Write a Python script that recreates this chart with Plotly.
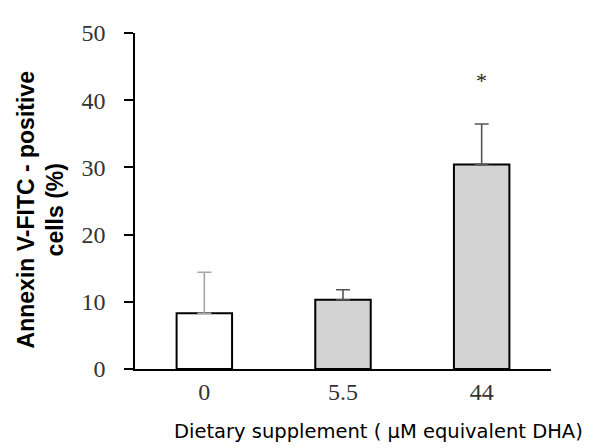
import plotly.graph_objects as go

# data
doses = ["0", "5.5", "44"]
annexin_pct = [8.3, 10.3, 30.45]
sem_up = [6.1, 1.5, 6.0]
bar_fill = ["white", "#d3d3d3", "#d3d3d3"]
err_color = ["#a6a6a6", "#555555", "#555555"]
star_dose = "44"
star_y = 43.0

fig = go.Figure()

for i, d in enumerate(doses):
    fig.add_trace(go.Bar(
        x=[d],
        y=[annexin_pct[i]],
        width=0.4,
        marker=dict(color=bar_fill[i], line=dict(color="black", width=2)),
        error_y=dict(
            type="data",
            symmetric=False,
            array=[sem_up[i]],
            arrayminus=[0],
            color=err_color[i],
            thickness=1.6,
            width=7,
        ),
        showlegend=False,
    ))

# significance marker (category axis -> use index position)
fig.add_annotation(
    x=doses.index(star_dose), y=star_y,
    text="*", showarrow=False,
    font=dict(family="Liberation Serif", size=22, color="#222222"),
)

# axis titles placed by hand, the original has them off-centre
fig.add_annotation(
    xref="paper", yref="paper",
    x=-0.226, y=0.475,
    xanchor="center", yanchor="middle",
    textangle=-90,
    text="<b>Annexin V-FITC - positive<br>cells (%)</b>",
    showarrow=False,
    font=dict(family="Liberation Sans", size=23, color="black"),
)
fig.add_annotation(
    xref="paper", yref="paper",
    x=0.585, y=-0.185,
    xanchor="center", yanchor="middle",
    text="Dietary supplement ( µM equivalent DHA)",
    showarrow=False,
    font=dict(family="DejaVu Sans", size=19.5, color="black"),
)

fig.update_layout(
    width=594,
    height=448,
    margin=dict(l=127, r=51, t=20, b=87),
    paper_bgcolor="white",
    plot_bgcolor="white",
    barmode="overlay",
    font=dict(family="Liberation Serif", size=24, color="#333333"),
)

fig.update_xaxes(
    type="category",
    range=[-0.5, 2.5],
    showline=True, linecolor="black", linewidth=1.5,
    showgrid=False, ticks="",
    tickfont=dict(family="Liberation Serif", size=24, color="#333333"),
    ticklabelstandoff=0,
)

fig.update_yaxes(
    range=[0, 50],
    dtick=10,
    showline=True, linecolor="black", linewidth=1.5,
    showgrid=False, zeroline=False,
    ticks="outside", ticklen=9, tickwidth=1.5, tickcolor="black",
    tickfont=dict(family="Liberation Serif", size=24, color="#333333"),
    ticklabelstandoff=14,
)

fig.write_html("out.html")
